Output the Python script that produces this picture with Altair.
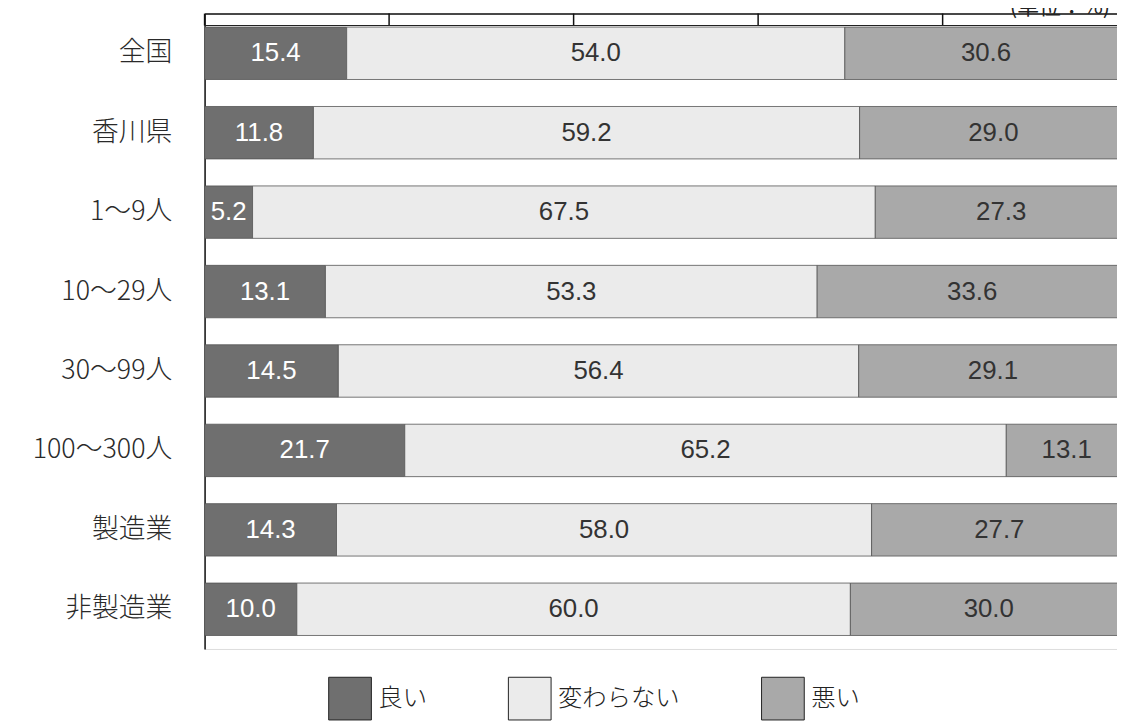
import altair as alt
import pandas as pd

categories = ["全国", "香川県", "1～9人", "10～29人", "30～99人", "100～300人", "製造業", "非製造業"]
good = [15.4, 11.8, 5.2, 13.1, 14.5, 21.7, 14.3, 10.0]
same = [54.0, 59.2, 67.5, 53.3, 56.4, 65.2, 58.0, 60.0]
bad = [30.6, 29.0, 27.3, 33.6, 29.1, 13.1, 27.7, 30.0]
series = ["良い", "変わらない", "悪い"]
colors = ["#6f6f6f", "#ebebeb", "#a9a9a9"]
text_colors = ["#ffffff", "#333333", "#333333"]
ticks = [0, 20, 40, 60, 80, 100]

rows = []
for i, c in enumerate(categories):
    for k, (s, vals) in enumerate(zip(series, [good, same, bad])):
        rows.append({"cat": c, "series": s, "value": vals[i], "order": k, "tcol": text_colors[k]})
df = pd.DataFrame(rows)

FONT_JP = "Noto Sans CJK JP"
FONT_NUM = "Liberation Sans"

xscale = alt.Scale(domain=[0, 98.9], nice=False, zero=True)
yscale = alt.Scale(domain=categories, paddingInner=0.34, paddingOuter=0.17)

base = alt.Chart(df).transform_stack(
    stack="value", groupby=["cat"], sort=[alt.SortField("order", "ascending")], as_=["x0", "x1"]
).transform_calculate(mid="(datum.x0 + datum.x1) / 2")

bars = base.mark_bar(stroke="#555555", strokeWidth=0.8).encode(
    x=alt.X("x0:Q", scale=xscale, axis=alt.Axis(orient="top", labels=False, ticks=False, grid=False,
                                                 domain=True, domainColor="#111111", domainWidth=1.5, title=None)),
    x2="x1:Q",
    y=alt.Y("cat:N", scale=yscale, sort=categories,
            axis=alt.Axis(title=None, ticks=False, labelPadding=33, labelFontSize=27, labelFont=FONT_JP,
                          labelFontWeight=300, labelColor="#2a2a2a", domain=True, domainColor="#111111",
                          domainWidth=1.5, labelLimit=300)),
    color=alt.Color("series:N", scale=alt.Scale(domain=series, range=colors),
                    legend=alt.Legend(title=None, orient="none", direction="horizontal", legendX=124, legendY=667,
                                      symbolType="square", symbolSize=1850, symbolStrokeColor="#222222",
                                      symbolStrokeWidth=1, labelFontSize=24.5, labelFont=FONT_JP,
                                      labelColor="#222222", labelFontWeight=300, labelOffset=6,
                                      columnPadding=79, padding=0)),
)

labels = base.mark_text(fontSize=26, font=FONT_NUM).encode(
    x=alt.X("mid:Q", scale=xscale),
    y=alt.Y("cat:N", scale=yscale, sort=categories),
    text=alt.Text("value:Q", format=".1f"),
    color=alt.Color("tcol:N", scale=None),
)

tick_df = pd.DataFrame({"t": ticks})
tick_rules = alt.Chart(tick_df).mark_rule(color="#111111", strokeWidth=1.5).encode(
    x=alt.X("t:Q", scale=xscale), y=alt.value(0), y2=alt.value(12)
)
header_line = alt.Chart(pd.DataFrame({"a": [0], "b": [100]})).mark_rule(color="#222222", strokeWidth=1.2).encode(
    x=alt.X("a:Q", scale=xscale), x2="b:Q", y=alt.value(12)
)
unit = alt.Chart(pd.DataFrame({"u": ["(単位：%)"]})).mark_text(
    fontSize=22, font=FONT_JP, align="left", baseline="alphabetic", color="#222222"
).encode(text="u:N", x=alt.value(811), y=alt.value(0))

chart = alt.layer(bars, labels, tick_rules, header_line, unit).properties(
    width=919, height=640,
    padding={"left": 198, "top": 3, "right": 0, "bottom": 80},
    autosize=alt.AutoSizeParams(type="none"),
).configure_view(stroke=None).configure(background="white")

chart.save("out.html", embed_options={"renderer": "svg", "actions": False})
